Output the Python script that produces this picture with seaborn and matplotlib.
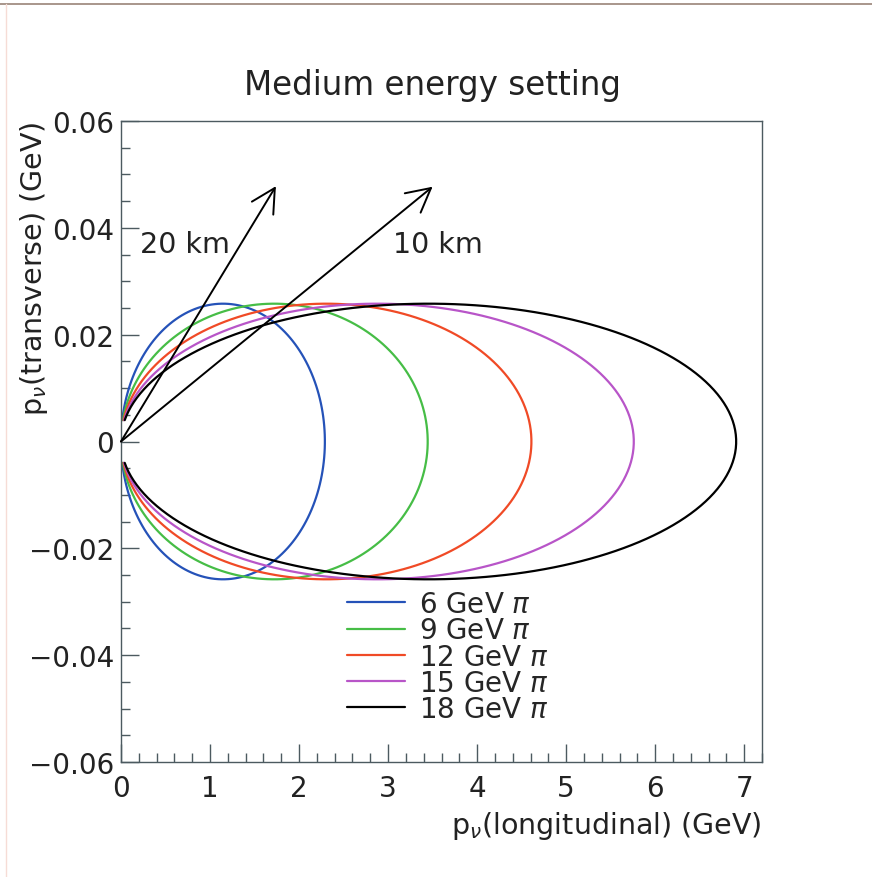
import numpy as np
import pandas as pd
import matplotlib
matplotlib.use("Agg")
import matplotlib.pyplot as plt
from matplotlib.ticker import MultipleLocator, FuncFormatter
import seaborn as sns

# values
pion_energy = [6, 9, 12, 15, 18]                      # GeV
pl_max = [2.29, 3.445, 4.61, 5.76, 6.91]              # rightmost p_L of each curve (GeV)
pt_max = [0.0258, 0.0258, 0.0258, 0.0258, 0.0258]     # top of each curve (GeV)
pt_gap = 0.004                                        # curves stop this far from p_T = 0 at the origin
curve_colors = ["#2552b8", "#46bd46", "#f04a26", "#b855c8", "#000000"]
labels = [f"{e} GeV $\\pi$" for e in pion_energy]

arrow_tips = [(1.74, 0.0478), (3.50, 0.0477)]
arrow_names = ["20 km", "10 km"]
arrow_text_pos = [(0.21, 0.0370), (3.05, 0.0370)]

n_pts = 180


def ellipse_frame(label, a_full, b):
    a = a_full / 2.0
    d = np.arcsin(pt_gap / b)
    t = np.linspace(-np.pi + d, np.pi - d, n_pts)
    return pd.DataFrame({
        "pl": a * (1 + np.cos(t)),
        "pt": b * np.sin(t),
        "beam": label,
    })


df = pd.concat(
    [ellipse_frame(lab, a, b) for lab, a, b in zip(labels, pl_max, pt_max)],
    ignore_index=True,
)

sns.set_theme(style="ticks")
plt.rcParams["font.family"] = ["DejaVu Sans"]
plt.rcParams["axes.unicode_minus"] = True

frame_col = "#4c5a60"
txt_col = "#222222"
fig = plt.figure(figsize=(8.72, 8.78), dpi=100)
ax = fig.add_axes([121 / 872, 115 / 878, 641 / 872, 641 / 878])

sns.lineplot(
    data=df, x="pl", y="pt", hue="beam", palette=curve_colors,
    sort=False, estimator=None, linewidth=1.6, ax=ax,
)

for (tx, ty), name, (lx, ly) in zip(arrow_tips, arrow_names, arrow_text_pos):
    ax.annotate(
        "", xy=(tx, ty), xytext=(0, 0),
        arrowprops=dict(arrowstyle="->,head_length=0.85,head_width=0.45",
                        mutation_scale=20, lw=1.4, color="black",
                        shrinkA=0, shrinkB=0),
    )
    ax.text(lx, ly, name, fontsize=20.5, ha="left", va="center", color=txt_col)

ax.set_xlim(0, 7.2)
ax.set_ylim(-0.06, 0.06)
ax.xaxis.set_major_locator(MultipleLocator(1))
ax.xaxis.set_minor_locator(MultipleLocator(0.2))
ax.yaxis.set_major_locator(MultipleLocator(0.02))
ax.yaxis.set_minor_locator(MultipleLocator(0.005))
ax.yaxis.set_major_formatter(FuncFormatter(
    lambda v, p: "0" if abs(v) < 1e-9 else f"{v:.2f}".replace("-", "\u2212")))
ax.xaxis.set_major_formatter(FuncFormatter(lambda v, p: f"{v:.0f}"))
ax.tick_params(which="both", direction="in", bottom=True, left=True,
               top=False, right=False, color=frame_col, width=1,
               labelsize=20, labelcolor=txt_col)
ax.tick_params(which="major", length=13)
ax.tick_params(which="minor", length=6.5)
ax.tick_params(axis="x", which="major", pad=9)
ax.tick_params(axis="y", which="major", pad=5)
for s in ax.spines.values():
    s.set_visible(True)
    s.set_color(frame_col)
    s.set_linewidth(1.0)

ax.set_xlabel("p$_\\nu$(longitudinal) (GeV)", fontsize=20.5, loc="right", color=txt_col)
ax.set_ylabel("p$_\\nu$(transverse) (GeV)", fontsize=20.5, loc="top", color=txt_col)
ax.xaxis.set_label_coords(1.0, -0.074)
ax.yaxis.set_label_coords(-0.111, 1.0)

ax.legend(
    loc="upper left", bbox_to_anchor=(0.352, 0.268), frameon=False,
    fontsize=20, labelspacing=-0.065, handlelength=2.1, handletextpad=0.5,
    borderpad=0, borderaxespad=0,
)

fig.text(432 / 872, 1 - 85 / 878, "Medium energy setting", fontsize=23.5,
         ha="center", va="center", color=txt_col)

# thin scan border at the top and left of the page
fig.add_artist(plt.Line2D([0.0, 1.0], [1 - 5 / 878] * 2, color="#9a8478", lw=1.2))
fig.add_artist(plt.Line2D([6 / 872] * 2, [0.0, 1 - 5 / 878], color="#f6dcd6", lw=1.0))

fig.savefig("out.png", dpi=100)
